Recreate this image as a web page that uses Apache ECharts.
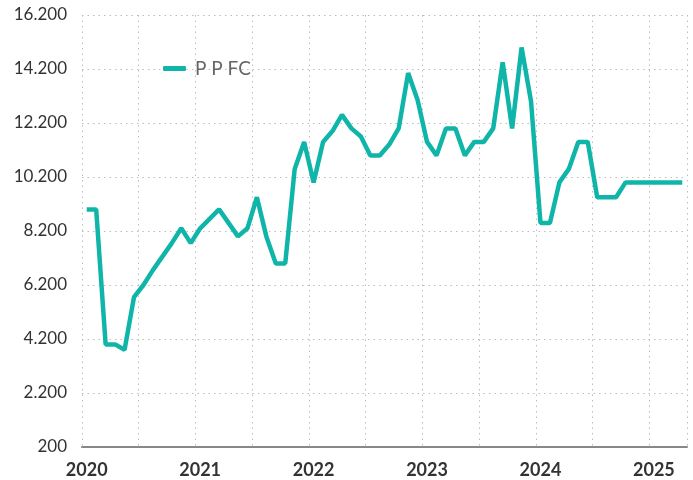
<!DOCTYPE html>
<html>
<head>
<meta charset="utf-8">
<script src="https://cdn.jsdelivr.net/npm/echarts@6/dist/echarts.min.js"></script>
<style>
  html, body { margin: 0; padding: 0; background: #fff; }
  #chart { width: 693px; height: 480px; }
</style>
</head>
<body>
<div id="chart"></div>
<script>
// 月份（2020-01 到 2025-04）
const years = ['2020', '2021', '2022', '2023', '2024', '2025']
const months = ['01', '02', '03', '04', '05', '06', '07', '08', '09', '10', '11', '12']
const categories = []
years.forEach(y => months.forEach(m => categories.push(y + '-' + m)))
categories.length = 64

const seriesName = 'P P FC'
const values = [
  9000, 9000, 4000, 4000, 3800, 5750, 6200, 6750, 7250, 7750, 8300, 7750,
  8300, 8650, 9000, 8500, 8000, 8300, 9450, 8000, 7000, 7000, 10500, 11500,
  10000, 11500, 11900, 12500, 12000, 11700, 11000, 11000, 11400, 12000, 14050, 13050,
  11500, 11000, 12000, 12000, 11000, 11500, 11500, 12000, 14450, 12000, 15000, 13000,
  8500, 8500, 10000, 10500, 11500, 11500, 9450, 9450, 9450, 10000, 10000, 10000,
  10000, 10000, 10000, 10000
]

// 千位分隔用点号
function fmt(v) {
  return String(v).replace(/\B(?=(\d{3})+(?!\d))/g, '.')
}

const myChart = echarts.init(document.querySelector('#chart'))
const lineColor = '#10b5a9'
const option = {
  animation: false,
  textStyle: { fontFamily: 'Lato' },
  grid: { left: 82, right: 6, top: 15, bottom: 33 },
  legend: {
    left: 163,
    top: 59,
    padding: 0,
    itemWidth: 23,
    itemHeight: 5,
    icon: 'roundRect',
    data: [seriesName],
    textStyle: { fontFamily: 'Lato', fontSize: 19, color: '#666', padding: [0, 0, 0, 4] }
  },
  xAxis: {
    type: 'category',
    data: categories,
    boundaryGap: true,
    axisLine: { lineStyle: { color: '#888', width: 2 } },
    axisTick: { show: false },
    axisLabel: {
      interval: 11,
      margin: 14,
      color: '#333',
      fontWeight: 'bold',
      fontSize: 18,
      fontFamily: 'Lato',
      formatter: v => v.slice(0, 4)
    },
    splitLine: {
      show: true,
      interval: 5,
      lineStyle: { color: '#bdbdbd', width: 1, type: [1.5, 4] }
    }
  },
  yAxis: {
    type: 'value',
    min: 200,
    max: 16200,
    interval: 2000,
    axisLine: { show: false },
    axisTick: { show: false },
    axisLabel: {
      margin: 15,
      color: '#333',
      fontSize: 17,
      fontFamily: 'Lato',
      formatter: fmt
    },
    splitLine: {
      lineStyle: { color: '#bdbdbd', width: 1, type: [1.5, 4] }
    }
  },
  series: [
    {
      name: seriesName,
      type: 'line',
      data: values,
      showSymbol: false,
      symbol: 'none',
      color: lineColor,
      lineStyle: { color: lineColor, width: 4.5 }
    }
  ]
}
myChart.setOption(option)
</script>
</body>
</html>
